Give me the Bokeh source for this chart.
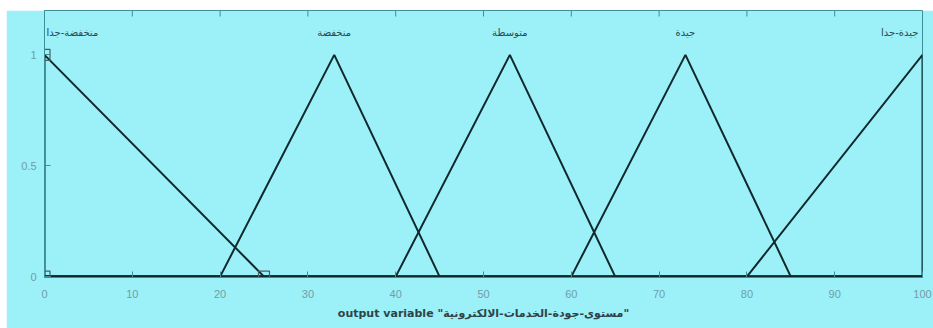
from bokeh.plotting import figure
from bokeh.models import Range1d, FixedTicker, ColumnDataSource
from bokeh.core.properties import value
from bokeh.embed import file_html
from bokeh.resources import INLINE

# Membership functions of the output variable (triangular: a, b, c)
mf_names = ["منخفضة-جدا", "منخفضة", "متوسطة", "جيدة", "جيدة-جدا"]
mf_a = [0, 20, 40, 60, 80]
mf_b = [0, 33, 53, 73, 100]
mf_c = [25, 45, 65, 85, 100]
selected_mf = 0

x_ticks = [0, 10, 20, 30, 40, 50, 60, 70, 80, 90, 100]
y_ticks = [0, 0.5, 1]
x_label = 'output variable "مستوى-جودة-الخدمات-الالكترونية"'

BG = "#9cf0f8"
AXIS = "#3f8f99"
LINE = "#10292c"
TICK_TXT = "#6f9ea5"

Y_MAX = 1.2
p = figure(width=927, height=318, output_backend="svg", toolbar_location=None,
           x_range=Range1d(0, 100), y_range=Range1d(-0.004, Y_MAX),
           min_border_left=38, min_border_right=11, min_border_top=0, min_border_bottom=51,
           background_fill_color=BG, border_fill_color=BG)
p.margin = (10, 0, 0, 6)
p.grid.visible = False
p.outline_line_color = AXIS
p.outline_line_width = 1

# full-range polyline for each membership function
for a, b, c in zip(mf_a, mf_b, mf_c):
    p.line([0, a, b, c, 100], [0, 0, 1, 0, 0], line_color=LINE, line_width=2)

# vertex markers of the selected function
sa, sb, sc = mf_a[selected_mf], mf_b[selected_mf], mf_c[selected_mf]
p.scatter([sa, sb, sc], [0, 1, 0], marker="square", size=11,
          fill_color=None, line_color="#4a5d60", line_width=1.2)

# function names above each peak
label_y = [1.1] * len(mf_names)
aligns = ["left"] + ["center"] * (len(mf_names) - 2) + ["right"]
offsets = [2] + [0] * (len(mf_names) - 2) + [-4]
src = ColumnDataSource(dict(x=mf_b, y=label_y, t=mf_names, align=aligns, dx=offsets))
p.text(x="x", y="y", text="t", source=src, text_align="align", x_offset="dx",
       text_baseline="middle", text_font=value("DejaVu Sans"),
       text_font_size="10px", text_color="#2b4a4f")

# inward tick marks along the top edge of the frame
tick_len = 6 / (318 - 51) * (Y_MAX + 0.004)
p.segment(x0=x_ticks, y0=[Y_MAX] * len(x_ticks), x1=x_ticks,
          y1=[Y_MAX - tick_len] * len(x_ticks), line_color=AXIS, line_width=1)

# axes
p.xaxis.ticker = FixedTicker(ticks=x_ticks)
p.yaxis.ticker = FixedTicker(ticks=y_ticks)
p.yaxis.major_label_overrides = {0: "0", 0.5: "0.5", 1: "1"}
for ax in (p.xaxis[0], p.yaxis[0]):
    ax.major_tick_in = 6
    ax.major_tick_out = 0
    ax.minor_tick_line_color = None
    ax.axis_line_color = AXIS
    ax.major_tick_line_color = AXIS
    ax.major_label_text_color = TICK_TXT
    ax.major_label_text_font = "Liberation Sans"
    ax.major_label_text_font_size = "11px"
p.xaxis.major_label_standoff = 12
p.yaxis.major_label_standoff = 8

p.xaxis.axis_label = x_label
p.xaxis.axis_label_text_font = "DejaVu Sans"
p.xaxis.axis_label_text_font_style = "bold"
p.xaxis.axis_label_text_font_size = "11px"
p.xaxis.axis_label_text_color = "#2f4346"
p.xaxis.axis_label_standoff = 6

open("out.html", "w").write(file_html(p, INLINE))
